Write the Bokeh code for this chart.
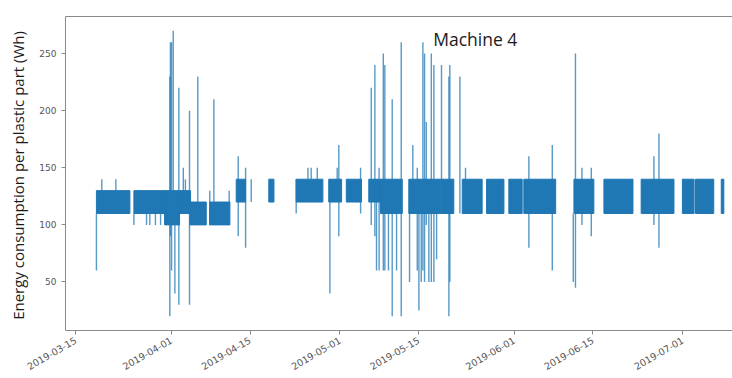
import pandas as pd
from math import pi
from bokeh.plotting import figure
from bokeh.models import (ColumnDataSource, FixedTicker, DatetimeTickFormatter,
                          DatetimeAxis, Range1d, Label)
from bokeh.embed import file_html
from bokeh.resources import INLINE

# Production runs: each run oscillates cycle to cycle between a lower and an upper level (Wh)
run_start = ["2019-03-18 16:00", "2019-03-25 08:00", "2019-03-30 19:00", "2019-04-02 11:00",
             "2019-04-04 07:00", "2019-04-07 19:00", "2019-04-12 13:00", "2019-04-18 08:00",
             "2019-04-23 05:00", "2019-04-29 00:00", "2019-05-02 03:00", "2019-05-06 03:00",
             "2019-05-08 05:00", "2019-05-13 06:00", "2019-05-19 00:00", "2019-05-22 18:00",
             "2019-05-27 02:00", "2019-05-31 01:00", "2019-06-02 17:00", "2019-06-11 15:00",
             "2019-06-16 23:00", "2019-06-23 14:00", "2019-06-30 22:00", "2019-07-03 06:00",
             "2019-07-07 20:00"]
run_end = ["2019-03-24 15:00", "2019-03-30 19:00", "2019-04-02 11:00", "2019-04-04 10:00",
           "2019-04-07 05:00", "2019-04-11 10:00", "2019-04-14 05:00", "2019-04-19 06:00",
           "2019-04-27 23:00", "2019-05-01 07:00", "2019-05-04 20:00", "2019-05-08 05:00",
           "2019-05-12 02:00", "2019-05-18 22:00", "2019-05-21 06:00", "2019-05-26 07:00",
           "2019-05-30 04:00", "2019-06-02 10:00", "2019-06-08 09:00", "2019-06-15 04:00",
           "2019-06-22 03:00", "2019-06-29 10:00", "2019-07-03 00:00", "2019-07-06 12:00",
           "2019-07-08 07:00"]
run_low = [110, 110, 100, 110, 100, 100, 120, 120, 120, 120, 120, 120, 110,
           110, 110, 110, 110, 110, 110, 110, 110, 110, 110, 110, 110]
run_high = [130, 130, 130, 130, 120, 120, 140, 140, 140, 140, 140, 140, 140,
            140, 140, 140, 140, 140, 140, 140, 140, 140, 140, 140, 140]

# Isolated excursions: time, lowest and highest reading of the excursion (Wh)
peak_time = ["2019-03-18 16:00", "2019-03-19 15:00", "2019-03-22 03:00", "2019-03-25 08:00",
             "2019-03-27 14:00", "2019-03-28 04:00", "2019-03-29 04:00", "2019-03-30 02:00",
             "2019-03-31 17:30", "2019-03-31 20:00", "2019-04-01 01:00", "2019-04-01 08:00",
             "2019-04-01 15:00", "2019-04-02 08:00", "2019-04-03 03:00", "2019-04-03 12:00",
             "2019-04-04 05:30", "2019-04-05 17:00", "2019-04-07 20:00", "2019-04-08 13:30",
             "2019-04-11 07:00", "2019-04-12 21:30", "2019-04-14 05:00", "2019-04-15 05:00",
             "2019-04-23 05:00", "2019-04-25 07:00", "2019-04-25 21:00", "2019-04-26 23:00",
             "2019-04-29 05:00", "2019-04-30 12:00", "2019-04-30 19:00", "2019-05-04 16:00",
             "2019-05-06 13:30", "2019-05-07 05:00", "2019-05-07 12:00", "2019-05-07 23:00",
             "2019-05-08 17:00", "2019-05-08 23:30", "2019-05-09 15:00", "2019-05-10 07:00",
             "2019-05-11 01:30", "2019-05-11 21:30", "2019-05-13 09:00", "2019-05-13 23:00",
             "2019-05-14 18:00", "2019-05-15 01:00", "2019-05-15 11:00", "2019-05-15 18:00",
             "2019-05-16 01:00", "2019-05-16 08:30", "2019-05-16 19:30", "2019-05-17 06:00",
             "2019-05-17 17:00", "2019-05-18 04:30", "2019-05-19 01:30", "2019-05-20 09:00",
             "2019-05-20 13:00", "2019-05-22 08:00", "2019-05-23 08:00", "2019-06-03 14:30",
             "2019-06-07 18:30", "2019-06-11 12:00", "2019-06-11 21:30", "2019-06-13 01:00",
             "2019-06-14 17:00", "2019-06-25 20:30", "2019-06-26 18:00"]
peak_low = [60, 130, 130, 100, 100, 100, 100, 100,
            20, 90, 60, 130, 40, 30, 110, 130,
            30, 100, 120, 100, 120, 90, 80, 120,
            110, 140, 140, 140, 40, 140, 90, 110,
            100, 90, 60, 60, 60, 60, 60, 20,
            60, 20, 50, 110, 60, 25, 50, 60,
            50, 100, 50, 50, 50, 70, 110, 20,
            50, 110, 120, 80, 60, 50, 45, 100,
            90, 100, 80]
peak_high = [110, 140, 140, 110, 110, 110, 110, 110,
             230, 260, 260, 270, 130, 220, 150, 140,
             200, 230, 130, 210, 130, 160, 150, 140,
             140, 150, 150, 150, 140, 150, 170, 150,
             220, 240, 140, 150, 250, 240, 140, 210,
             140, 260, 140, 170, 150, 140, 130, 260,
             250, 190, 140, 250, 240, 140, 240, 230,
             240, 230, 150, 160, 170, 110, 250, 150,
             150, 160, 180]

date_ticks = ["2019-03-15", "2019-04-01", "2019-04-15", "2019-05-01",
              "2019-05-15", "2019-06-01", "2019-06-15", "2019-07-01"]
value_ticks = [50, 100, 150, 200, 250]

BLUE = "#1f77b4"
FRAME = "#8a8a8a"

runs = ColumnDataSource(dict(
    left=pd.to_datetime(run_start), right=pd.to_datetime(run_end),
    bottom=run_low, top=run_high))
peaks = ColumnDataSource(dict(
    t=pd.to_datetime(peak_time), lo=peak_low, hi=peak_high))

p = figure(width=732, height=378, x_axis_type="datetime",
           x_range=Range1d(pd.Timestamp("2019-03-13 04:00"), pd.Timestamp("2019-07-09 20:00")),
           y_range=Range1d(7.5, 282.5),
           output_backend="svg", toolbar_location=None,
           min_border_left=65, min_border_right=0, min_border_top=16, min_border_bottom=48)
p.outline_line_color = None
p.background_fill_color = "white"
p.border_fill_color = "white"
p.grid.visible = False

p.segment(x0="t", y0="lo", x1="t", y1="hi", source=peaks,
          line_color=BLUE, line_width=1.4, line_alpha=0.75)
p.quad(left="left", right="right", bottom="bottom", top="top", source=runs,
       fill_color=BLUE, line_color=BLUE, line_width=1)

tick_ms = [pd.Timestamp(d).value // 10**6 for d in date_ticks]
fmt = "%Y-%m-%d"
p.xaxis.ticker = FixedTicker(ticks=tick_ms)
p.xaxis.formatter = DatetimeTickFormatter(
    milliseconds=fmt, seconds=fmt, minsec=fmt, minutes=fmt, hourmin=fmt,
    hours=fmt, days=fmt, months=fmt, years=fmt, context=None)
p.xaxis.major_label_orientation = pi / 6
p.yaxis.ticker = FixedTicker(ticks=value_ticks)

for ax in (p.xaxis[0], p.yaxis[0]):
    ax.axis_line_color = FRAME
    ax.major_tick_line_color = FRAME
    ax.major_tick_out = 4
    ax.major_tick_in = 0
    ax.minor_tick_line_color = None
    ax.major_label_text_font = "DejaVu Sans"
    ax.major_label_text_font_size = "9.5px"
    ax.major_label_text_color = "#555555"
p.yaxis.major_label_text_font_size = "9px"

p.yaxis.axis_label = "Energy consumption per plastic part  (Wh)"
p.yaxis.axis_label_text_font = "Open Sans"
p.yaxis.axis_label_text_font_style = "normal"
p.yaxis.axis_label_text_font_size = "15px"
p.yaxis.axis_label_text_color = "#1a1a1a"
p.yaxis.axis_label_standoff = 8

# top edge of the frame
top = DatetimeAxis(ticker=FixedTicker(ticks=[]), axis_line_color=FRAME,
                   major_tick_line_color=None, minor_tick_line_color=None,
                   major_label_text_font_size="0px")
p.add_layout(top, "above")

p.add_layout(Label(x=pd.Timestamp("2019-05-17 14:00"), y=263, text="Machine 4",
                   text_font="Open Sans", text_font_size="17.5px", text_color="#1a1a1a",
                   text_baseline="middle"))

open("out.html", "w").write(file_html(p, INLINE))
